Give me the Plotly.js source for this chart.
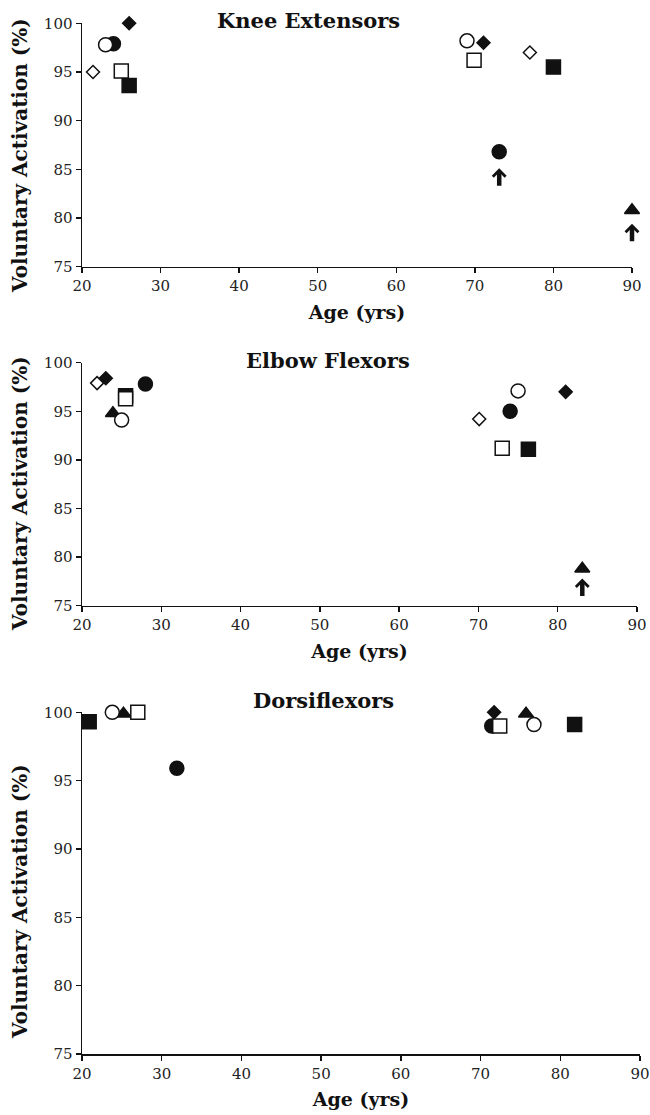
<!DOCTYPE html>
<html>
<head>
<meta charset="utf-8">
<script src="https://cdn.plot.ly/plotly-3.0.1.min.js"></script>
<style>html,body{margin:0;padding:0;background:#fff;}#chart{width:650px;height:1115px;}</style>
</head>
<body>
<div id="chart"></div>
<script>
// ---- Data ----
var panelTitles = ['Knee Extensors', 'Elbow Flexors', 'Dorsiflexors'];
var xTitle = 'Age (yrs)';
var yTitle = 'Voluntary Activation (%)';
var xTickVals = [20, 30, 40, 50, 60, 70, 80, 90];
var yTickVals = [75, 80, 85, 90, 95, 100];

// study markers: FC filled circle, OC open circle, FS filled square, OS open square,
// FD filled diamond, OD open diamond, FT filled triangle
var kneeStudy = ['FC', 'OC', 'OD', 'OS', 'FS', 'FD', 'OC', 'FD', 'OS', 'OD', 'FS', 'FC', 'FT'];
var kneeAge   = [24.0, 23.0, 21.4, 25.0, 26.0, 26.0, 69.0, 71.1, 69.9, 77.0, 80.0, 73.1, 90.0];
var kneeVA    = [97.9, 97.8, 95.0, 95.1, 93.6, 100.0, 98.2, 98.0, 96.2, 97.0, 95.5, 86.8, 80.8];
var kneeArrowAge = [73.1, 90.0];
var kneeArrowVA  = [85.1, 79.4];

var elbowStudy = ['OD', 'FD', 'FS', 'OS', 'FC', 'FT', 'OC', 'OC', 'FD', 'FC', 'OD', 'OS', 'FS', 'FT'];
var elbowAge   = [21.9, 23.0, 25.5, 25.5, 28.0, 23.9, 25.0, 75.0, 81.0, 74.0, 70.1, 73.0, 76.3, 83.1];
var elbowVA    = [97.9, 98.4, 96.6, 96.3, 97.8, 94.8, 94.1, 97.1, 97.0, 95.0, 94.2, 91.2, 91.1, 78.8];
var elbowArrowAge = [83.1];
var elbowArrowVA  = [77.8];

var dorsiStudy = ['FS', 'OC', 'FT', 'OS', 'FC', 'FD', 'FC', 'OS', 'FT', 'OC', 'FS'];
var dorsiAge   = [20.9, 23.8, 25.2, 27.0, 31.9, 71.7, 71.4, 72.4, 75.7, 76.7, 81.8];
var dorsiVA    = [99.3, 100.0, 99.9, 100.0, 95.9, 100.0, 99.0, 99.0, 99.9, 99.1, 99.1];
var dorsiArrowAge = [];
var dorsiArrowVA  = [];

// ---- Styles ----
var INK = '#111';
var styles = {
  FC: {symbol: 'circle', size: 14, color: INK},
  FS: {symbol: 'square', size: 14, color: INK},
  FD: {symbol: 'diamond', size: 10, color: INK},
  FT: {symbol: 'triangle-up', size: 13, color: INK},
  OC: {symbol: 'circle', size: 14, color: '#fff'},
  OS: {symbol: 'square', size: 14, color: '#fff'},
  OD: {symbol: 'diamond', size: 10, color: '#fff'}
};
var drawOrder = ['FC', 'FS', 'FD', 'FT', 'OC', 'OS', 'OD'];

var panels = [
  {study: kneeStudy, age: kneeAge, va: kneeVA, aAge: kneeArrowAge, aVA: kneeArrowVA},
  {study: elbowStudy, age: elbowAge, va: elbowVA, aAge: elbowArrowAge, aVA: elbowArrowVA},
  {study: dorsiStudy, age: dorsiAge, va: dorsiVA, aAge: dorsiArrowAge, aVA: dorsiArrowVA}
];

var H = 1115, W = 650;
var xDomains = [[82 / W, 632 / W], [82 / W, 637 / W], [82 / W, 640 / W]];
var yTopPx = [23.3, 362.7, 712.3], yBotPx = [266.7, 605.7, 1054];
var titleY = [20, 360, 700];
var titleX = [308, 328, 323];
var yTitleCenterPx = [156, 494, 902];

var traces = [];
var annotations = [];
var layout = {
  width: W, height: H,
  margin: {l: 0, r: 0, t: 0, b: 0},
  showlegend: false,
  paper_bgcolor: '#fff', plot_bgcolor: '#fff',
  font: {family: 'DejaVu Serif', color: '#222'}
};

panels.forEach(function (p, i) {
  var sfx = i === 0 ? '' : String(i + 1);
  var xa = 'x' + sfx, ya = 'y' + sfx;
  drawOrder.forEach(function (k) {
    var xs = [], ys = [];
    p.study.forEach(function (s, j) { if (s === k) { xs.push(p.age[j]); ys.push(p.va[j]); } });
    if (!xs.length) return;
    var st = styles[k];
    traces.push({
      type: 'scatter', mode: 'markers', x: xs, y: ys, xaxis: xa, yaxis: ya,
      cliponaxis: false, hoverinfo: 'x+y',
      marker: {symbol: st.symbol, size: st.size, color: st.color, line: {color: INK, width: 1.5}}
    });
  });
  p.aAge.forEach(function (a, j) {
    annotations.push({
      xref: xa, yref: ya, x: a, y: p.aVA[j], text: '', showarrow: true,
      ax: 0, ay: 19, arrowhead: 4, arrowsize: 0.55, arrowwidth: 4.5, arrowcolor: INK, standoff: 0
    });
  });
  annotations.push({
    xref: 'paper', yref: 'paper', x: titleX[i] / W, y: 1 - titleY[i] / H,
    xanchor: 'center', yanchor: 'middle', showarrow: false,
    text: '<b>' + panelTitles[i] + '</b>',
    font: {family: 'DejaVu Serif', size: 21, color: INK}
  });
  annotations.push({
    xref: 'paper', yref: 'paper', x: 20 / W, y: 1 - yTitleCenterPx[i] / H,
    xanchor: 'center', yanchor: 'middle', showarrow: false, textangle: -90,
    text: '<b>' + yTitle + '</b>',
    font: {family: 'DejaVu Serif', size: 20, color: INK}
  });
  layout['xaxis' + sfx] = {
    domain: xDomains[i], anchor: ya, range: [20, 90],
    tickmode: 'array', tickvals: xTickVals,
    showline: true, linecolor: INK, linewidth: 1.5,
    ticks: 'outside', ticklen: 5, tickwidth: 1.5, tickcolor: INK,
    showgrid: false, zeroline: false, fixedrange: true,
    tickfont: {family: 'DejaVu Serif', size: 15, color: '#222'},
    title: {text: '<b>' + xTitle + '</b>', font: {family: 'DejaVu Serif', size: 19, color: INK}, standoff: 11}
  };
  layout['yaxis' + sfx] = {
    domain: [(H - yBotPx[i]) / H, (H - yTopPx[i]) / H], anchor: xa, range: [75, 100],
    tickmode: 'array', tickvals: yTickVals,
    showline: true, linecolor: INK, linewidth: 1.5,
    ticks: 'outside', ticklen: 5, tickwidth: 1.5, tickcolor: INK,
    showgrid: false, zeroline: false, fixedrange: true,
    tickfont: {family: 'DejaVu Serif', size: 15, color: '#222'}
  };
});
layout.annotations = annotations;

Plotly.newPlot('chart', traces, layout, {staticPlot: true, displayModeBar: false});
</script>
</body>
</html>
